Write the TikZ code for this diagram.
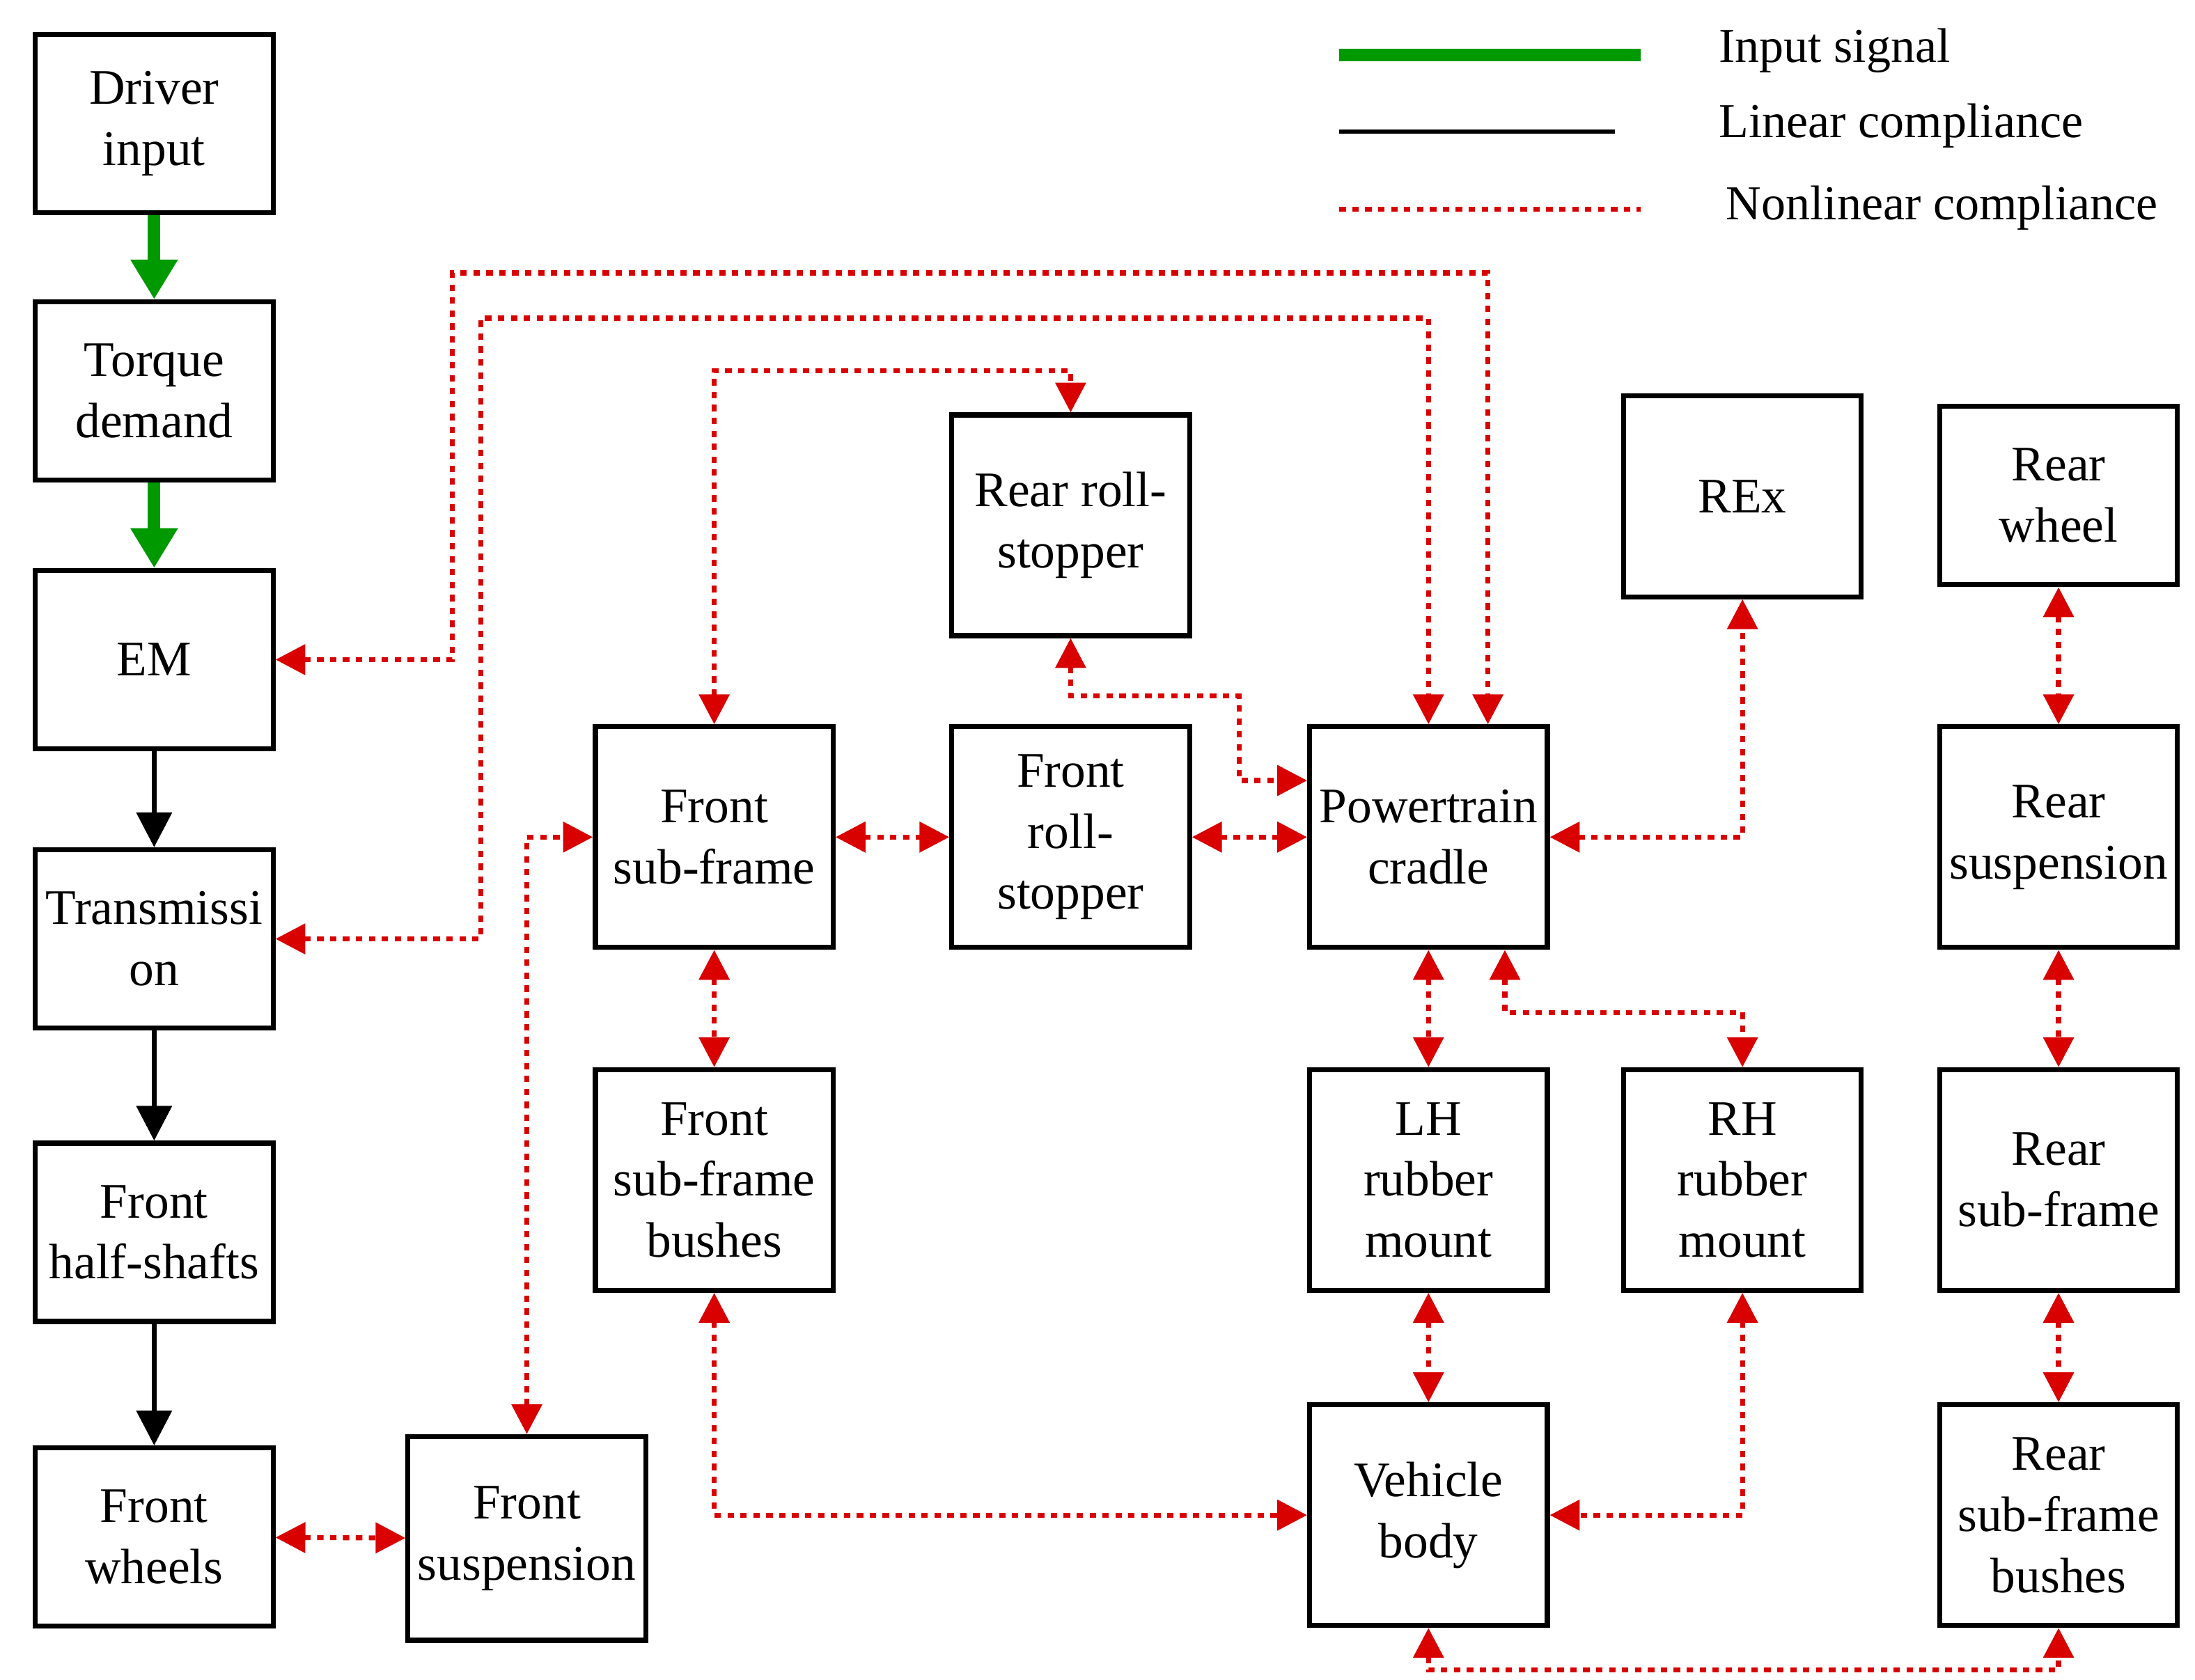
\documentclass[tikz,border=0pt]{standalone}
\usepackage{fontspec}
\setmainfont{Liberation Serif}
\usetikzlibrary{arrows.meta}
\begin{document}
\begin{tikzpicture}[x=0.01cm,y=-0.01cm,
 box/.style={draw,line width=1pt,minimum width=1.68cm,minimum height=1.26cm,inner sep=0pt,align=center,font=\fontsize{10}{12.3}\selectfont},
 tall/.style={box,minimum height=1.56cm},
 rd/.style={draw=red!85!black,line width=1pt,dash pattern=on 1.3pt off 1.3pt,{Triangle[length=6pt,width=6pt,fill=red!85!black]}-{Triangle[length=6pt,width=6pt,fill=red!85!black]}},
 gr/.style={draw=green!60!black,line width=2.5pt,-{Triangle[length=8pt,width=9pt]}},
 bk/.style={draw,line width=1pt,-{Triangle[length=7pt,width=7pt]}},
 lg/.style={font=\fontsize{9.8}{12}\selectfont,anchor=west}]
\useasboundingbox (0,0) rectangle (1552,1188);
\node[box] (di) at (109,87.5) {Driver\\input};
\node[box] (td) at (109,276.5) {Torque\\demand};
\node[box] (em) at (109,466.5) {EM};
\node[box] (tr) at (109,664) {Transmissi\\on};
\node[box] (hs) at (109,871.5) {Front\\half-shafts};
\node[box] (fw) at (109,1087) {Front\\wheels};
\node[box,minimum height=1.44cm] (fs) at (372.5,1088) {Front\\suspension};
\node[tall] (fsf) at (505,592) {Front\\sub-frame};
\node[tall] (fsb) at (505,834.5) {Front\\sub-frame\\bushes};
\node[tall] (rrs) at (757,371.5) {Rear roll-\\stopper};
\node[tall] (frs) at (757,592) {Front\\roll-\\stopper};
\node[tall] (pt) at (1010,592) {Powertrain\\cradle};
\node[tall] (lh) at (1010,834.5) {LH\\rubber\\mount};
\node[tall] (vb) at (1010,1071.5) {Vehicle\\body};
\node[box,minimum height=1.42cm] (rex) at (1232,351) {REx};
\node[tall] (rh) at (1232,834.5) {RH\\rubber\\mount};
\node[box] (rw) at (1455.5,350.5) {Rear\\wheel};
\node[tall] (rs) at (1455.5,592) {Rear\\suspension};
\node[tall] (rsf) at (1455.5,834.5) {Rear\\sub-frame};
\node[tall] (rsb) at (1455.5,1071.5) {Rear\\sub-frame\\bushes};
% legend
\coordinate (l1a) at (947,39); \coordinate (l1b) at (1160,39);
\coordinate (l2a) at (947,93); \coordinate (l2b) at (1142,93);
\coordinate (l3a) at (947,148); \coordinate (l3b) at (1160,148);
\draw[draw=green!60!black,line width=2.5pt] (l1a) -- (l1b);
\draw[line width=0.8pt] (l2a) -- (l2b);
\draw[draw=red!85!black,line width=1pt,dash pattern=on 1.3pt off 1.3pt] (l3a) -- (l3b);
\node[lg] (t1) at (1203,36) {Input signal};
\node[lg] (t2) at (1203,89) {Linear compliance};
\node[lg] (t3) at (1208,147) {Nonlinear compliance};
% signals
\draw[gr] (di) -- (td);
\draw[gr] (td) -- (em);
\draw[bk] (em) -- (tr);
\draw[bk] (tr) -- (hs);
\draw[bk] (hs) -- (fw);
% nonlinear
\draw[rd] (em.east) -| (320,193) -| ([xshift=0.42cm]pt.north);
\draw[rd] (tr.east) -| (340,225) -| (pt.north);
\draw[rd] (fsf.north) |- (757,262) -- (rrs.north);
\draw[rd] (rrs.south) |- (876,492) |- ([yshift=0.4cm]pt.west);
\draw[rd] (fsf) -- (frs);
\draw[rd] (frs) -- (pt);
\draw[rd] (pt.east) -| (rex.south);
\draw[rd] (fs.north) |- (fsf.west);
\draw[rd] (fw) -- (fs);
\draw[rd] (fsf) -- (fsb);
\draw[rd] (fsb.south) |- (vb.west);
\draw[rd] (pt) -- (lh);
\draw[rd] ([xshift=0.54cm]pt.south) |- (1232,716) -- (rh.north);
\draw[rd] (lh) -- (vb);
\draw[rd] (rh.south) |- (vb.east);
\draw[rd] (rw) -- (rs);
\draw[rd] (rs) -- (rsf);
\draw[rd] (rsf) -- (rsb);
\draw[rd] (vb.south) |- (1232,1181) -| (rsb.south);
\end{tikzpicture}
\end{document}
